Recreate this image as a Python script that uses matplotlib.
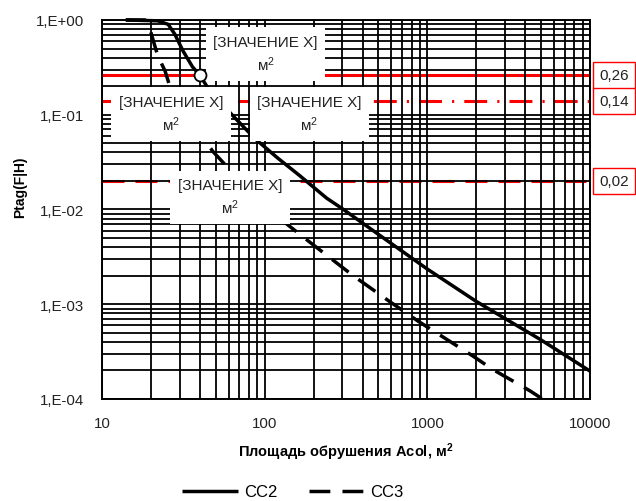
import numpy as np
import matplotlib
matplotlib.use('Agg')
import matplotlib.pyplot as plt
from matplotlib.ticker import FuncFormatter, LogLocator
from matplotlib.transforms import blended_transform_factory

plt.rcParams['font.family'] = ['Liberation Sans', 'DejaVu Sans']
plt.rcParams['mathtext.fontset'] = 'custom'
plt.rcParams['mathtext.rm'] = 'Liberation Sans'
plt.rcParams['mathtext.it'] = 'Liberation Sans'
plt.rcParams['mathtext.bf'] = 'Liberation Sans:bold'

# curves
cc2_area = [14, 22, 25.5, 28, 31.5, 36, 40, 46, 64, 87, 120, 165, 240, 300, 490, 1000, 2000, 5000, 10000]
cc2_p = [1.0, 0.98, 0.9, 0.71, 0.47, 0.32, 0.26, 0.178, 0.097, 0.056, 0.035, 0.0226, 0.0132, 0.0102,
         0.0056, 2.35e-3, 1.07e-3, 4.2e-4, 1.97e-4]

cc3_area = [14, 18.4, 19.7, 22, 24.4, 27, 36, 48, 59, 100, 137, 190, 350, 590, 875, 1900, 2500, 4270, 5100]
cc3_p = [1.0, 1.0, 0.80, 0.42, 0.29, 0.166, 0.083, 0.041, 0.028, 0.0119, 0.0070, 0.0045, 0.0020,
         0.00106, 6.65e-4, 2.85e-4, 2.07e-4, 1.22e-4, 1.0e-4]

# reference levels
levels = [0.26, 0.14, 0.02]
level_labels = ['0,26', '0,14', '0,02']
level_styles = ['-', (0, (7.5, 3.3, 0.7, 3.3)), (0, (7.2, 3.6))]

point_area = 40
point_p = 0.26

box_text = '[ЗНАЧЕНИЕ X]\nм$^2$'
# box centres, axes fraction
box_pos = [(0.335, 0.910), (0.141, 0.752), (0.425, 0.752), (0.262, 0.532)]

fig = plt.figure(figsize=(6.36, 5.02), dpi=100)
ax = fig.add_axes([0.1604, 0.2032, 0.7673, 0.755])

ax.set_xscale('log')
ax.set_yscale('log')
ax.set_xlim(10, 10000)
ax.set_ylim(1e-4, 1)

ax.yaxis.set_minor_locator(LogLocator(base=10, subs=np.arange(2, 10)))
ax.xaxis.set_minor_locator(LogLocator(base=10, subs=np.arange(2, 10)))
ax.grid(which='both', color='black', lw=1.3, zorder=1)
ax.set_axisbelow(True)

for lev, ls in zip(levels, level_styles):
    ax.axhline(lev, color='#ff0000', lw=2.2, linestyle=ls, zorder=0.3)

ax.plot(cc2_area, cc2_p, color='black', lw=2.5, label='CC2', zorder=3, clip_on=False,
        solid_capstyle='butt')
ax.plot(cc3_area, cc3_p, color='black', lw=2.5, linestyle=(0, (6, 3.5)), label='CC3', zorder=3,
        clip_on=False)

for (bx, by) in box_pos:
    ax.text(bx, by, box_text, transform=ax.transAxes, ha='center', va='center',
            multialignment='center', fontsize=11, color='#222222', linespacing=1.35,
            bbox=dict(boxstyle='square,pad=0.5', fc='white', ec='none'), zorder=5)

ax.plot([point_area], [point_p], 'o', ms=8.6, mfc='white', mec='black', mew=1.3, zorder=6)

trans = blended_transform_factory(ax.transAxes, ax.transData)
for lev, lab in zip(levels, level_labels):
    ax.text(1.05, lev, lab, transform=trans, ha='center', va='center', fontsize=11,
            color='#222222', clip_on=False,
            bbox=dict(boxstyle='square,pad=0.4', fc='white', ec='#ff0000', lw=1.0))

ax.xaxis.set_major_formatter(FuncFormatter(lambda v, pos: f'{int(round(v))}'))
ax.yaxis.set_major_formatter(FuncFormatter(lambda v, pos: f'1,E{int(round(np.log10(v))):+03d}'))
ax.tick_params(which='both', length=0)
ax.tick_params(axis='y', pad=13, labelsize=10.8, labelcolor='#222222')
ax.tick_params(axis='x', pad=12, labelsize=10.8, labelcolor='#222222')

for sp in ax.spines.values():
    sp.set_linewidth(1.4)
    sp.set_zorder(7)

ax.set_xlabel(r'Площадь обрушения Acol, м$^{\mathbf{2}}$', fontsize=10.5, fontweight='bold', labelpad=8)
ax.set_ylabel('Ptag(F|H)', fontsize=10, fontweight='bold')
ax.yaxis.set_label_coords(-0.154, 0.562)

fig.legend(loc='center', bbox_to_anchor=(293 / 636, 1 - 493 / 502), ncol=2, frameon=False,
           fontsize=12, handlelength=3.35, handletextpad=0.36, columnspacing=1.86)

plt.savefig('out.png', dpi=100, facecolor='white')
